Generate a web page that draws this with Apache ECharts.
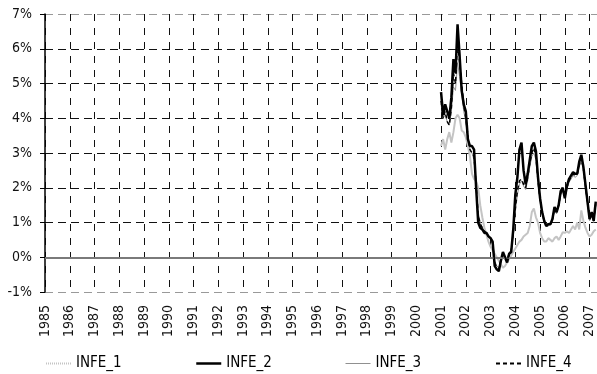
<!DOCTYPE html>
<html>
<head>
<meta charset="utf-8">
<script src="https://cdn.jsdelivr.net/npm/echarts@6/dist/echarts.min.js"></script>
<style>
  html, body { margin: 0; padding: 0; background: #fff; }
  #chart { width: 597px; height: 374px; }
</style>
</head>
<body>
<div id="chart"></div>
<script>
// Monthly expected-inflation series, January 2001 onward (percent).
var startYear = 2001;
var seriesNames = ['INFE_1', 'INFE_2', 'INFE_3', 'INFE_4'];

var infe1 = [3.2, 3.4, 3.1, 3.4, 3.6, 3.3, 3.6, 4.0, 4.1, 4.0, 3.65, 3.6,
             3.45, 3.2, 2.9, 2.4, 2.25, 2.2, 2.0, 1.5, 1.15, 0.85, 0.65, 0.45,
             0.3, 0.2, 0.1, 0.0, -0.1, -0.2, -0.3, -0.25, -0.15, -0.05, 0.05, 0.15,
             0.25, 0.35, 0.45, 0.5, 0.6, 0.65, 0.7, 0.9, 1.3, 1.4, 1.15, 1.0,
             0.7, 0.55, 0.45, 0.45, 0.55, 0.5, 0.45, 0.55, 0.6, 0.5, 0.6, 0.72,
             0.7, 0.75, 0.7, 0.8, 0.9, 0.8, 1.0, 0.8, 1.35, 1.05, 0.85, 0.7,
             0.6, 0.65, 0.75, 0.8];

var infe2 = [4.75, 4.1, 4.4, 4.2, 4.0, 4.6, 5.7, 5.3, 6.7, 5.8, 4.8, 4.4,
             4.2, 3.4, 3.2, 3.2, 3.1, 2.0, 1.0, 0.85, 0.8, 0.7, 0.7, 0.6,
             0.55, 0.45, -0.25, -0.35, -0.4, -0.1, 0.15, 0.0, -0.15, 0.1, 0.15, 0.8,
             1.8, 2.3, 3.1, 3.3, 2.5, 2.1, 2.4, 2.8, 3.2, 3.3, 3.05, 2.3,
             1.7, 1.3, 1.05, 0.9, 0.95, 0.95, 1.1, 1.45, 1.3, 1.5, 1.9, 2.0,
             1.7, 2.05, 2.25, 2.35, 2.45, 2.4, 2.4, 2.75, 2.95, 2.6, 2.1, 1.6,
             1.1, 1.3, 1.05, 1.6];

var infe3 = [4.4, 4.0, 4.1, 3.9, 3.8, 4.2, 4.9, 4.8, 5.6, 5.2, 4.7, 4.2,
             3.9, 3.4, 3.1, 3.0, 2.8, 2.1, 1.3, 1.0, 0.85, 0.75, 0.7, 0.6,
             0.55, 0.4, -0.1, -0.25, -0.3, -0.1, 0.1, 0.0, -0.1, 0.05, 0.15, 0.6,
             1.3, 1.8, 2.1, 2.2, 2.05, 1.95, 2.2, 2.6, 2.9, 3.0, 2.8, 2.2,
             1.6, 1.25, 1.0, 0.9, 0.9, 0.95, 1.05, 1.35, 1.25, 1.45, 1.8, 1.9,
             1.7, 1.95, 2.15, 2.25, 2.35, 2.3, 2.35, 2.6, 2.8, 2.5, 2.0, 1.5,
             1.05, 1.2, 1.0, 1.5];

var infe4 = [4.5, 4.0, 4.2, 3.9, 3.8, 4.3, 5.3, 5.0, 6.2, 5.6, 5.0, 4.4,
             4.0, 3.5, 3.1, 3.0, 2.9, 2.1, 1.2, 0.95, 0.85, 0.75, 0.7, 0.6,
             0.55, 0.4, -0.15, -0.3, -0.35, -0.1, 0.1, 0.0, -0.1, 0.1, 0.2, 0.7,
             1.4, 1.9, 2.2, 2.25, 2.1, 2.0, 2.3, 2.7, 3.0, 3.15, 2.9, 2.2,
             1.65, 1.3, 1.05, 0.95, 0.95, 1.0, 1.1, 1.4, 1.3, 1.5, 1.85, 1.95,
             1.75, 2.0, 2.2, 2.3, 2.4, 2.35, 2.4, 2.65, 2.85, 2.55, 2.05, 1.55,
             1.1, 1.25, 1.05, 1.55];

var yearMin = 1985, yearMax = 2007.3;
var pctMin = -1, pctMax = 7;

function toPoints(values) {
  return values.map(function (v, i) { return [startYear + i / 12, v]; });
}

var FONT = '"Liberation Sans Narrow", "DejaVu Sans Condensed", "Liberation Sans", sans-serif';

var styles = {
  INFE_1: { color: '#c4c4c4', width: 2, type: 'solid' },
  INFE_2: { color: '#000000', width: 2.5, type: 'solid' },
  INFE_3: { color: '#909090', width: 1, type: 'solid' },
  INFE_4: { color: '#000000', width: 1.5, type: [4, 3] }
};
var legendStyles = {
  INFE_1: { color: '#c4c4c4', width: 2, type: [1, 1] },
  INFE_2: { color: '#000000', width: 2.5, type: 'solid' },
  INFE_3: { color: '#909090', width: 1, type: 'solid' },
  INFE_4: { color: '#000000', width: 2, type: [4, 3] }
};
var dataMap = { INFE_1: infe1, INFE_2: infe2, INFE_3: infe3, INFE_4: infe4 };
var legendLeft = [40, 190, 340, 490];

// horizontal grid: grey at the frame edges, black dashes inside
var hColors = [];
for (var k = pctMin; k <= pctMax; k++) {
  hColors.push((k === pctMin || k === pctMax) ? '#999999' : '#111111');
}

var chart = echarts.init(document.getElementById('chart'), null, { renderer: 'canvas' });

var series = seriesNames.map(function (name) {
  return {
    name: name,
    type: 'line',
    data: toPoints(dataMap[name]),
    symbol: 'none',
    showSymbol: false,
    smooth: false,
    lineStyle: styles[name],
    itemStyle: { color: styles[name].color },
    z: name === 'INFE_1' ? 2 : (name === 'INFE_3' ? 3 : (name === 'INFE_2' ? 4 : 5)),
    animation: false
  };
});

// solid zero line
series.push({
  type: 'line',
  data: [],
  markLine: {
    silent: true,
    symbol: 'none',
    label: { show: false },
    lineStyle: { color: '#7a7a7a', width: 2, type: 'solid' },
    data: [{ yAxis: 0 }]
  },
  z: 1,
  animation: false
});

var legends = seriesNames.map(function (name, i) {
  return {
    data: [name],
    left: legendLeft[i],
    top: 351,
    itemWidth: 25,
    itemHeight: 10,
    itemGap: 5,
    lineStyle: legendStyles[name],
    itemStyle: { color: 'rgba(0,0,0,0)', borderWidth: 0, opacity: 0 },
    textStyle: { fontFamily: FONT, fontSize: 15, color: '#000' },
    selectedMode: false
  };
});

chart.setOption({
  animation: false,
  backgroundColor: '#ffffff',
  textStyle: { fontFamily: FONT },
  legend: legends,
  grid: { left: 45, right: 0, top: 14, bottom: 82, containLabel: false },
  xAxis: {
    type: 'value',
    min: yearMin,
    max: yearMax,
    interval: 1,
    axisLine: { show: false },
    axisTick: { show: false },
    axisLabel: {
      rotate: 90,
      margin: 13,
      fontFamily: FONT,
      fontSize: 14,
      color: '#111',
      showMaxLabel: false,
      formatter: function (v) {
        return Math.abs(v - Math.round(v)) < 1e-6 ? String(Math.round(v)) : '';
      }
    },
    splitLine: {
      show: true,
      lineStyle: { color: '#111111', width: 1, type: [7, 7] }
    }
  },
  yAxis: {
    type: 'value',
    min: pctMin,
    max: pctMax,
    interval: 1,
    axisLine: { show: true, onZero: false, lineStyle: { color: '#000', width: 1.5 } },
    axisTick: { show: true, inside: false, length: 5, lineStyle: { color: '#000' } },
    axisLabel: {
      margin: 13,
      fontFamily: FONT,
      fontSize: 14,
      color: '#111',
      formatter: function (v) { return v + '%'; }
    },
    splitLine: {
      show: true,
      lineStyle: { color: hColors, width: 1, type: [8, 5] }
    }
  },
  series: series
});
</script>
</body>
</html>
